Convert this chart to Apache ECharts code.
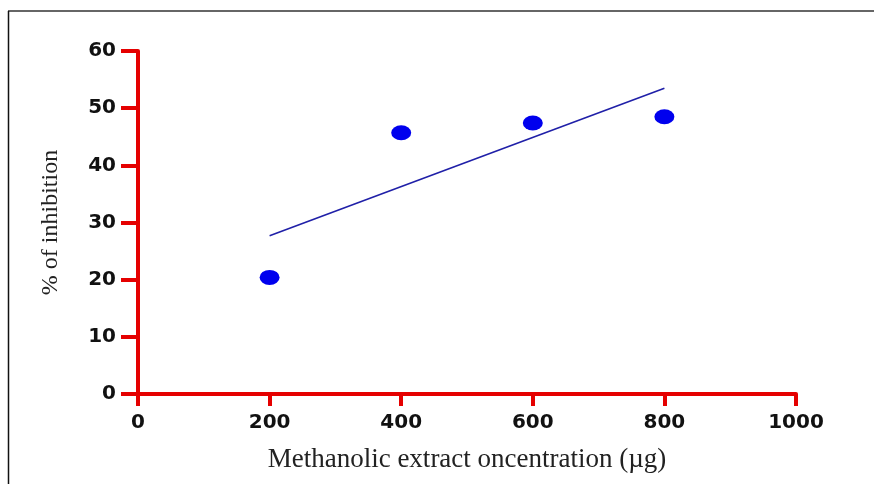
<!DOCTYPE html>
<html>
<head>
<meta charset="utf-8">
<script src="https://cdn.jsdelivr.net/npm/echarts@6/dist/echarts.min.js"></script>
<style>
html,body{margin:0;padding:0;background:#fff;}
#chart{width:874px;height:484px;}
</style>
</head>
<body>
<div id="chart"></div>
<script>
// Data
const concentrations = [200, 400, 600, 800];
const inhibition = [20.4, 45.7, 47.4, 48.5];
const trendX = [200, 800];
const trendY = [27.7, 53.5];
const xTicks = [0, 200, 400, 600, 800, 1000];
const yTicks = [0, 10, 20, 30, 40, 50, 60];
const xTitle = 'Methanolic extract oncentration (\u00b5g)';
const yTitle = '% of inhibition';

const points = concentrations.map((x, i) => [x, inhibition[i]]);
const trend = trendX.map((x, i) => [x, trendY[i]]);

const RED = '#e50000';
const chart = echarts.init(document.getElementById('chart'), null, {renderer: 'canvas'});
chart.setOption({
  backgroundColor: '#ffffff',
  animation: false,
  grid: {left: 138, top: 51, right: 78, bottom: 90, containLabel: false},
  xAxis: {
    type: 'value',
    min: xTicks[0], max: xTicks[xTicks.length - 1], interval: 200,
    splitLine: {show: false},
    axisLine: {show: true, onZero: false, lineStyle: {color: RED, width: 4}},
    axisTick: {show: true, inside: false, length: 12, lineStyle: {color: RED, width: 4}},
    axisLabel: {color: '#111', fontFamily: 'DejaVu Sans, sans-serif', fontWeight: 'bold', fontSize: 20, margin: 19,
      formatter: v => String(v)},
    name: xTitle,
    nameLocation: 'middle',
    nameGap: 52,
    nameTextStyle: {color: '#222', fontFamily: 'Liberation Serif, Times New Roman, serif', fontSize: 27}
  },
  yAxis: {
    type: 'value',
    min: yTicks[0], max: yTicks[yTicks.length - 1], interval: 10,
    splitLine: {show: false},
    axisLine: {show: true, onZero: false, lineStyle: {color: RED, width: 4}},
    axisTick: {show: true, inside: false, length: 17, lineStyle: {color: RED, width: 4}},
    axisLabel: {color: '#111', fontFamily: 'DejaVu Sans, sans-serif', fontWeight: 'bold', fontSize: 20, margin: 22,
      formatter: v => String(v)},
    name: yTitle,
    nameLocation: 'middle',
    nameGap: 75,
    nameRotate: 90,
    nameTextStyle: {color: '#222', fontFamily: 'Liberation Serif, Times New Roman, serif', fontSize: 24}
  },
  series: [
    {
      type: 'line',
      data: trend,
      symbol: 'none',
      lineStyle: {color: '#2020a8', width: 1.6},
      z: 2
    },
    {
      type: 'scatter',
      data: points,
      symbol: 'circle',
      symbolSize: [20, 15],
      itemStyle: {color: '#0000ee', opacity: 1},
      z: 3
    }
  ],
  graphic: [
    {type: 'line', shape: {x1: 8, y1: 11, x2: 874, y2: 11}, style: {stroke: '#666', lineWidth: 2}},
    {type: 'line', shape: {x1: 8.5, y1: 11, x2: 8.5, y2: 484}, style: {stroke: '#111', lineWidth: 1.5}}
  ]
});
</script>
</body>
</html>
